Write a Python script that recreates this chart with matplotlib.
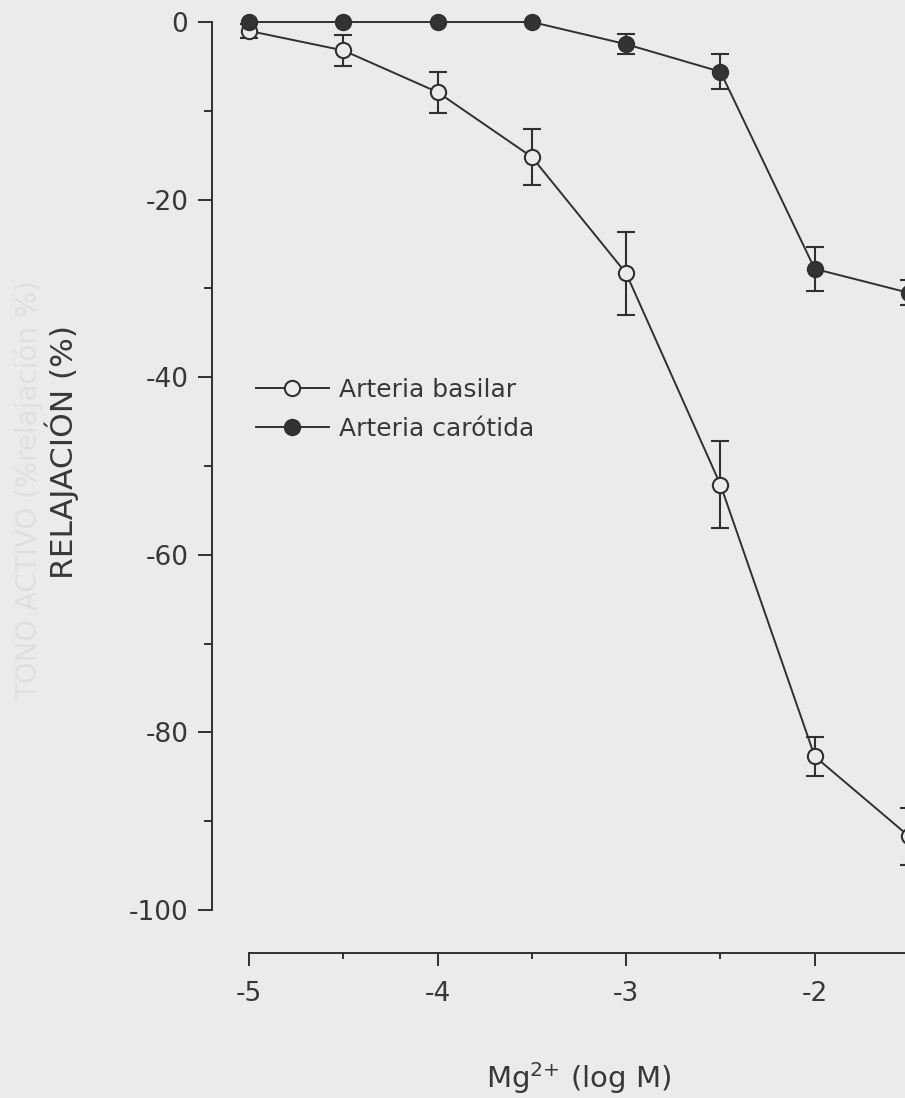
import numpy as np
import matplotlib
matplotlib.use("Agg")
import matplotlib.pyplot as plt
from matplotlib.lines import Line2D

# Concentration-response data (log molar Mg2+ vs. % relaxation, mean and SEM)
conc = [-5.0, -4.5, -4.0, -3.5, -3.0, -2.5, -2.0, -1.5]
basilar = [-1.0, -3.2, -7.9, -15.2, -28.3, -52.1, -82.7, -91.7]
basilar_sem = [0.8, 1.7, 2.3, 3.2, 4.7, 4.9, 2.2, 3.2]
carotida = [0.0, 0.0, 0.0, 0.0, -2.5, -5.6, -27.8, -30.5]
carotida_sem = [0.0, 0.0, 0.0, 0.0, 1.1, 2.0, 2.5, 1.4]

series_labels = ["Arteria basilar", "Arteria carótida"]
xticks = [-5, -4, -3, -2]
xtick_labels = ["-5", "-4", "-3", "-2"]
yticks = [0, -20, -40, -60, -80, -100]
ytick_labels = ["0", "-20", "-40", "-60", "-80", "-100"]
xlabel = "Mg$^{2{+}}$ (log M)"
ylabel = "RELAJACIÓN (%)"
back_text = "TONO ACTIVO (%relajación %)"

BG = "#ebebeb"
INK = "#303030"
TXT = "#383838"

plt.rcParams["font.family"] = ["DejaVu Sans"]
plt.rcParams["mathtext.fontset"] = "dejavusans"
plt.rcParams["axes.unicode_minus"] = False

W, H = 905, 1098
fig = plt.figure(figsize=(W / 100, H / 100), dpi=100, facecolor=BG)

# axes box in pixels: x -5 -> 249 px, -1.5 -> 909 px; y 0 -> 22 px, -100 -> 910 px
x0, x1 = 249, 909
y0, y1 = 22, 910
ax = fig.add_axes([x0 / W, 1 - y1 / H, (x1 - x0) / W, (y1 - y0) / H])
ax.set_facecolor(BG)
ax.patch.set_alpha(0)
ax.set_xlim(-5, -1.5)
ax.set_ylim(-100, 0)

for s in ("top", "right"):
    ax.spines[s].set_visible(False)
ax.spines["left"].set_position(("outward", 37 * 0.72))
ax.spines["bottom"].set_position(("outward", 43 * 0.72))
ax.spines["left"].set_bounds(-100, 0)
ax.spines["bottom"].set_bounds(-5, -1.5)
for s in ("left", "bottom"):
    ax.spines[s].set_linewidth(1.4)
    ax.spines[s].set_color(INK)

ax.set_xticks(xticks)
ax.set_xticklabels(xtick_labels)
ax.set_xticks([-4.5, -3.5, -2.5], minor=True)
ax.set_yticks(yticks)
ax.set_yticklabels(ytick_labels)
ax.set_yticks([-10, -30, -50, -70, -90], minor=True)

ax.tick_params(axis="y", which="major", direction="out", length=10, width=1.4,
               color=INK, labelcolor=TXT, labelsize=19, pad=7)
ax.tick_params(axis="y", which="minor", direction="out", length=5.5, width=1.4, color=INK)
ax.tick_params(axis="x", which="major", direction="out", length=9.5, width=1.4,
               color=INK, labelcolor=TXT, labelsize=19, pad=11)
ax.tick_params(axis="x", which="minor", direction="out", length=4.5, width=1.4, color=INK)

ms, mew, lw = 11, 1.5, 1.4


def draw(y, sem, face, z):
    xs = [c for c, e in zip(conc, sem) if e > 0]
    ys = [v for v, e in zip(y, sem) if e > 0]
    es = [e for e in sem if e > 0]
    ax.errorbar(xs, ys, yerr=es, fmt="none", ecolor=INK, elinewidth=1.5,
                capsize=6.5, capthick=1.5, zorder=z, clip_on=False)
    ax.plot(conc, y, color=INK, lw=lw, marker="o", ms=ms, mew=mew,
            mfc=face, mec=INK, zorder=z + 0.5, clip_on=False)


draw(basilar, basilar_sem, BG, 3)
draw(carotida, carotida_sem, "#333333", 5)

handles = [
    Line2D([], [], color=INK, lw=lw, marker="o", ms=ms, mew=mew, mfc=BG, mec=INK),
    Line2D([], [], color=INK, lw=lw, marker="o", ms=ms, mew=mew, mfc="#333333", mec=INK),
]
leg = fig.legend(handles, series_labels, loc="upper left",
                 bbox_to_anchor=(256 / W, 1 - 378 / H), frameon=False,
                 fontsize=18, handlelength=2.9, handletextpad=0.4,
                 labelspacing=0.6, borderpad=0, borderaxespad=0, numpoints=1)
for t in leg.get_texts():
    t.set_color(TXT)

ax.set_xlabel(xlabel, fontsize=21, color=TXT)
ax.xaxis.set_label_coords(0.5, -(1060 - y1) / (y1 - y0))
ax.xaxis.label.set_verticalalignment("top")

ax.set_ylabel(ylabel, fontsize=22.5, color=TXT)
ax.yaxis.label.set_verticalalignment("center")
ax.yaxis.set_label_coords((62 - x0) / (x1 - x0), (y1 - 452) / (y1 - y0))

# faint text showing through from the reverse side of the page
fig.text(28 / W, 1 - 490 / H, back_text, rotation=90, ha="center", va="center",
         fontsize=20, color="#dfdfdf", zorder=0)

fig.savefig("out.png", dpi=100, facecolor=BG)
